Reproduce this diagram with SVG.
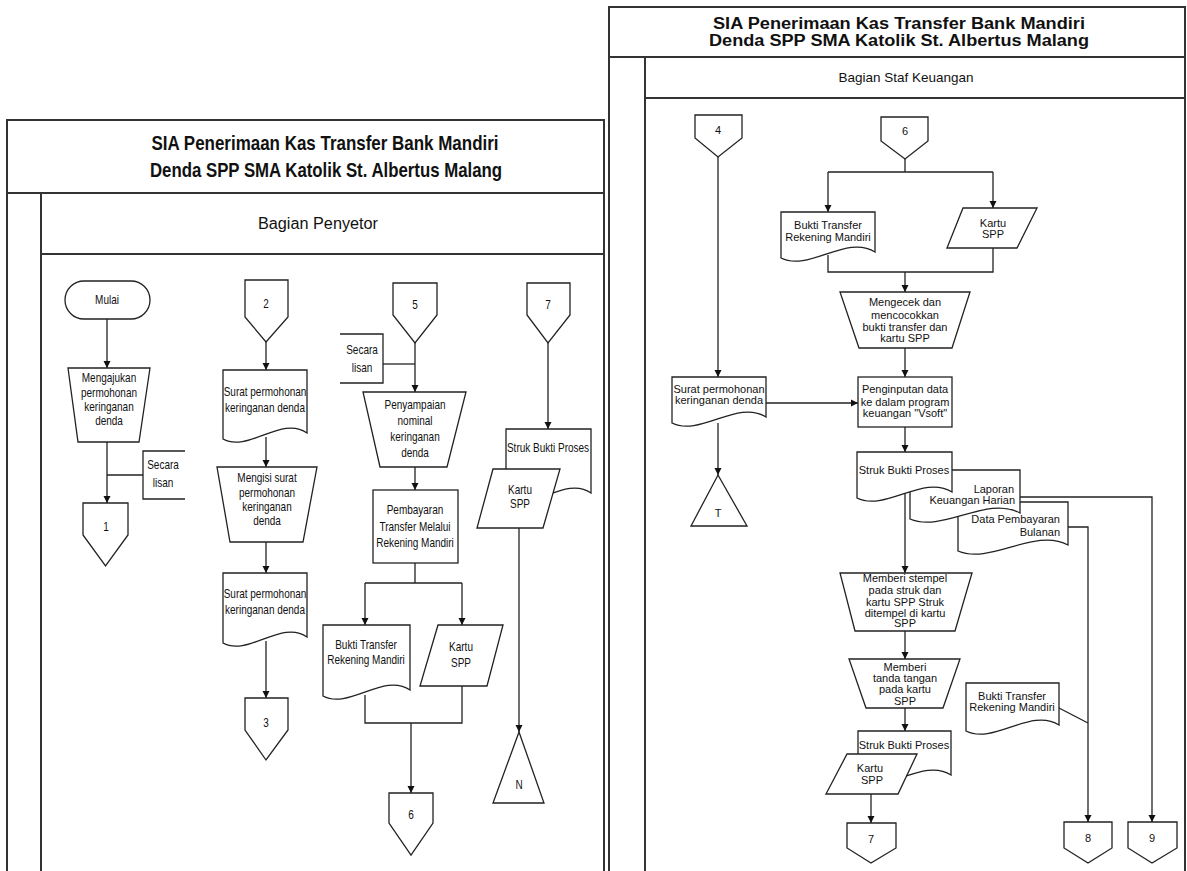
<svg xmlns="http://www.w3.org/2000/svg" width="1187" height="871" viewBox="0 0 1187 871">
<defs>
<marker id="ah" markerWidth="8" markerHeight="8" refX="7" refY="4" orient="auto" markerUnits="userSpaceOnUse"><path d="M0,0.5 L7,4 L0,7.5 Z" fill="#111"/></marker>
</defs>
<style>
.f{fill:none;stroke:#333;stroke-width:2}
.s{fill:#fff;stroke:#222;stroke-width:1.3}
.c{fill:none;stroke:#222;stroke-width:1.3}
.a{marker-end:url(#ah)}
text{font-family:"Liberation Sans",Arial,sans-serif;fill:#111;text-anchor:middle}
.l{font-size:12.5px}
.r{font-size:11px}
.tl{font-size:21px;font-weight:bold}
.tr{font-size:16px;font-weight:bold}
.e{text-anchor:end}
</style>
<rect width="1187" height="871" fill="#fff"/>
<g id="frames">
<path class="f" d="M7,871 V120 H604 V871 M7,193 H604 M41,193 V871 M41,254 H604"/>
<path class="f" d="M609,871 V7 H1185 V871 M609,57 H1185 M645,57 V871 M645,98 H1185"/>
<text class="tl" x="325" y="150" textLength="347" lengthAdjust="spacingAndGlyphs">SIA Penerimaan Kas Transfer Bank Mandiri</text>
<text class="tl" x="326" y="177" textLength="352" lengthAdjust="spacingAndGlyphs">Denda SPP SMA Katolik St. Albertus Malang</text>
<text x="318" y="229" style="font-size:16px" textLength="120" lengthAdjust="spacingAndGlyphs">Bagian Penyetor</text>
<text class="tr" x="899" y="29" textLength="372" lengthAdjust="spacingAndGlyphs">SIA Penerimaan Kas Transfer Bank Mandiri</text>
<text class="tr" x="899" y="46" textLength="380" lengthAdjust="spacingAndGlyphs">Denda SPP SMA Katolik St. Albertus Malang</text>
<text x="906" y="82" style="font-size:13.5px">Bagian Staf Keuangan</text>
</g>
<g id="connectors">
<path class="c a" d="M107,319 V368"/>
<path class="c a" d="M107,442 V503"/>
<path class="c" d="M107,475 H143"/>
<path class="c a" d="M266,342 V370"/>
<path class="c a" d="M266,437 V467"/>
<path class="c a" d="M266,542 V573"/>
<path class="c a" d="M266,641 V698"/>
<path class="c a" d="M415,343 V392"/>
<path class="c" d="M383,364 H415"/>
<path class="c a" d="M415,467 V490"/>
<path class="c" d="M415,563 V583 M365,583 H462"/>
<path class="c a" d="M365,583 V625"/>
<path class="c a" d="M462,583 V625"/>
<path class="c" d="M365,695 V723 H462 V686"/>
<path class="c a" d="M411,723 V793"/>
<path class="c a" d="M548,343 V429"/>
<path class="c a" d="M519,528 V732"/>
<path class="c a" d="M718,157 V377"/>
<path class="c a" d="M766,403 H858"/>
<path class="c a" d="M718,423 V475"/>
<path class="c" d="M905,159 V172 M828,172 H993"/>
<path class="c a" d="M828,172 V212"/>
<path class="c a" d="M993,172 V208"/>
<path class="c" d="M828,255 V272 H993 V248"/>
<path class="c a" d="M905,272 V292"/>
<path class="c a" d="M905,348 V377"/>
<path class="c a" d="M905,427 V452"/>
<path class="c a" d="M905,494 V573"/>
<path class="c a" d="M1020,497 H1152 V822"/>
<path class="c a" d="M1068,527 H1088 V822"/>
<path class="c" d="M1059,708 L1088,723"/>
<path class="c a" d="M905,631 V659"/>
<path class="c a" d="M905,708 V731"/>
<path class="c a" d="M871,794 V823"/>
</g>
<g id="mulai"><rect class="s" x="65" y="281" width="85" height="38" rx="19"/><text class="l" transform="translate(107 304) scale(.8 1)">Mulai</text></g>
<g id="mengajukan"><polygon class="s" points="68,368 150,368 139,442 78,442"/><text class="l" transform="translate(109 0) scale(.8 1)"><tspan x="0" y="382">Mengajukan</tspan><tspan x="0" y="397">permohonan</tspan><tspan x="0" y="411">keringanan</tspan><tspan x="0" y="425">denda</tspan></text></g>
<g id="lisan1"><path class="c" d="M185,451 H143 V499 H185"/><text class="l" transform="translate(163 0) scale(.8 1)"><tspan x="0" y="469">Secara</tspan><tspan x="0" y="487">lisan</tspan></text></g>
<g id="off1"><polygon class="s" points="83,503 128,503 128,535 105.5,566 83,535"/><text class="l" transform="translate(106 531) scale(.8 1)">1</text></g>
<g id="off2"><polygon class="s" points="245,280 288,280 288,317 266,342 245,317"/><text class="l" transform="translate(266 308) scale(.8 1)">2</text></g>
<g id="surat1"><path class="s" d="M223,370 H307 V433 C281.8,415 248.2,453 223,439 Z"/><text class="l" transform="translate(265 0) scale(.8 1)"><tspan x="0" y="396">Surat permohonan</tspan><tspan x="0" y="412">keringanan denda</tspan></text></g>
<g id="mengisi"><polygon class="s" points="217,467 317,467 303,542 230,542"/><text class="l" transform="translate(267 0) scale(.8 1)"><tspan x="0" y="482">Mengisi surat</tspan><tspan x="0" y="497">permohonan</tspan><tspan x="0" y="511">keringanan</tspan><tspan x="0" y="525">denda</tspan></text></g>
<g id="surat2"><path class="s" d="M223,573 H307 V637 C281.8,619 248.2,657 223,643 Z"/><text class="l" transform="translate(265 0) scale(.8 1)"><tspan x="0" y="598">Surat permohonan</tspan><tspan x="0" y="614">keringanan denda</tspan></text></g>
<g id="off3"><polygon class="s" points="245,698 288,698 288,730 266,760 245,730"/><text class="l" transform="translate(266 727) scale(.8 1)">3</text></g>
<g id="off5"><polygon class="s" points="393,283 437,283 437,315 415,343 393,315"/><text class="l" transform="translate(415 309) scale(.8 1)">5</text></g>
<g id="lisan2"><path class="c" d="M340,334 H383 V383 H340"/><text class="l" transform="translate(362 0) scale(.8 1)"><tspan x="0" y="354">Secara</tspan><tspan x="0" y="372">lisan</tspan></text></g>
<g id="penyampaian"><polygon class="s" points="363,392 466,392 447,467 380,467"/><text class="l" transform="translate(415 0) scale(.8 1)"><tspan x="0" y="409">Penyampaian</tspan><tspan x="0" y="425">nominal</tspan><tspan x="0" y="441">keringanan</tspan><tspan x="0" y="457">denda</tspan></text></g>
<g id="pembayaran"><rect class="s" x="373" y="490" width="85" height="73"/><text class="l" transform="translate(415 0) scale(.8 1)"><tspan x="0" y="514">Pembayaran</tspan><tspan x="0" y="531">Transfer Melalui</tspan><tspan x="0" y="547">Rekening Mandiri</tspan></text></g>
<g id="bukti1"><path class="s" d="M323,625 H410 V690 C383.9,672 349.1,710 323,696 Z"/><text class="l" transform="translate(366 0) scale(.8 1)"><tspan x="0" y="649">Bukti Transfer</tspan><tspan x="0" y="664">Rekening Mandiri</tspan></text></g>
<g id="kartu1"><polygon class="s" points="438,625 503,625 487,686 420,686"/><text class="l" transform="translate(461 0) scale(.8 1)"><tspan x="0" y="651">Kartu</tspan><tspan x="0" y="667">SPP</tspan></text></g>
<g id="off6"><polygon class="s" points="389,793 433,793 433,823 411,855 389,823"/><text class="l" transform="translate(411 819) scale(.8 1)">6</text></g>
<g id="off7"><polygon class="s" points="527,283 570,283 570,315 548,343 527,315"/><text class="l" transform="translate(548 309) scale(.8 1)">7</text></g>
<g id="struk1"><path class="s" d="M506,429 H591 V493 C565.5,475 531.5,513 506,499 Z"/><text class="l" transform="translate(548 452) scale(.8 1)">Struk Bukti Proses</text></g>
<g id="kartu2"><polygon class="s" points="493,469 560,469 543,528 477,528"/><text class="l" transform="translate(520 0) scale(.8 1)"><tspan x="0" y="494">Kartu</tspan><tspan x="0" y="508">SPP</tspan></text></g>
<g id="offN"><polygon class="s" points="519,732 544,803 493,803"/><text class="l" transform="translate(519 789) scale(.8 1)">N</text></g>
<g id="r-off4"><polygon class="s" points="695,115 742,115 742,138 718,157 695,138"/><text class="r" x="718" y="134">4</text></g>
<g id="r-surat"><path class="s" d="M672,377 H766 V417 C737.8,399 700.2,437 672,423 Z"/><text class="r"><tspan x="719" y="393">Surat permohonan</tspan><tspan x="719" y="404">keringanan denda</tspan></text></g>
<g id="r-offT"><polygon class="s" points="718,475 747,526 691,526"/><text class="r" x="718" y="517">T</text></g>
<g id="r-off6"><polygon class="s" points="881,117 928,117 928,141 905,159 881,141"/><text class="r" x="905" y="135">6</text></g>
<g id="r-bukti"><path class="s" d="M781,212 H875 V252 C846.8,234 809.2,272 781,258 Z"/><text class="r"><tspan x="828" y="229">Bukti Transfer</tspan><tspan x="828" y="241">Rekening Mandiri</tspan></text></g>
<g id="r-kartu"><polygon class="s" points="963,208 1037,208 1017,248 947,248"/><text class="r"><tspan x="993" y="227">Kartu</tspan><tspan x="993" y="238">SPP</tspan></text></g>
<g id="r-mengecek"><polygon class="s" points="840,292 970,292 952,348 859,348"/><text class="r"><tspan x="905" y="306">Mengecek dan</tspan><tspan x="905" y="319">mencocokkan</tspan><tspan x="905" y="331">bukti transfer dan</tspan><tspan x="905" y="342">kartu SPP</tspan></text></g>
<g id="r-input"><rect class="s" x="858" y="377" width="94" height="50"/><text class="r"><tspan x="905" y="393">Penginputan data</tspan><tspan x="905" y="406">ke dalam program</tspan><tspan x="905" y="417">keuangan "Vsoft"</tspan></text></g>
<g id="r-data"><path class="s" d="M958,502 H1068 V545 C1035,527 991,565 958,551 Z"/><text class="r e"><tspan x="1060" y="523">Data Pembayaran</tspan><tspan x="1060" y="536">Bulanan</tspan></text></g>
<g id="r-laporan"><path class="s" d="M910,470 H1020 V513 C987,495 943,533 910,519 Z"/><text class="r e"><tspan x="1014" y="493">Laporan</tspan><tspan x="1015" y="504">Keuangan Harian</tspan></text></g>
<g id="r-struk1"><path class="s" d="M857,452 H952 V492 C923.5,474 885.5,512 857,498 Z"/><text class="r" x="904" y="474">Struk Bukti Proses</text></g>
<g id="r-stempel"><polygon class="s" points="840,573 972,573 955,631 855,631"/><text class="r"><tspan x="905" y="582">Memberi stempel</tspan><tspan x="905" y="594">pada struk dan</tspan><tspan x="905" y="606">kartu SPP   Struk</tspan><tspan x="905" y="617">ditempel di kartu</tspan><tspan x="905" y="627">SPP</tspan></text></g>
<g id="r-ttd"><polygon class="s" points="849,659 960,659 943,708 866,708"/><text class="r"><tspan x="905" y="671">Memberi</tspan><tspan x="905" y="682">tanda tangan</tspan><tspan x="905" y="693">pada kartu</tspan><tspan x="905" y="705">SPP</tspan></text></g>
<g id="r-struk2"><path class="s" d="M858,731 H951 V775 C923.1,757 885.9,795 858,781 Z"/><text class="r" x="904" y="749">Struk Bukti Proses</text></g>
<g id="r-kartu2"><polygon class="s" points="847,754 917,754 898,794 826,794"/><text class="r"><tspan x="870" y="772">Kartu</tspan><tspan x="872" y="784">SPP</tspan></text></g>
<g id="r-bukti2"><path class="s" d="M966,683 H1059 V725 C1031.1,707 993.9,745 966,731 Z"/><text class="r"><tspan x="1012" y="700">Bukti Transfer</tspan><tspan x="1012" y="711">Rekening Mandiri</tspan></text></g>
<g id="r-off7"><polygon class="s" points="847,823 896,823 896,848 871,863 847,848"/><text class="r" x="871" y="843">7</text></g>
<g id="r-off8"><polygon class="s" points="1064,822 1112,822 1112,848 1088,863 1064,848"/><text class="r" x="1088" y="842">8</text></g>
<g id="r-off9"><polygon class="s" points="1128,822 1177,822 1177,848 1152,863 1128,848"/><text class="r" x="1152" y="842">9</text></g>
</svg>
